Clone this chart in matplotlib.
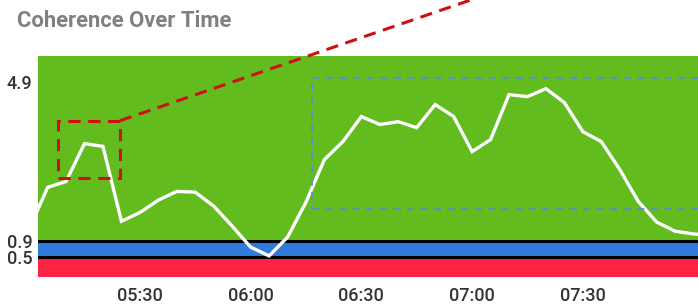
import matplotlib
matplotlib.use('Agg')
import matplotlib.pyplot as plt
from matplotlib.patches import Rectangle

plt.rcParams['font.family'] = ['Roboto', 'DejaVu Sans']

# coherence readings every 5 minutes
times = ['05:00', '05:05', '05:10', '05:15', '05:20', '05:25', '05:30', '05:35',
         '05:40', '05:45', '05:50', '05:55', '06:00', '06:05', '06:10', '06:15',
         '06:20', '06:25', '06:30', '06:35', '06:40', '06:45', '06:50', '06:55',
         '07:00', '07:05', '07:10', '07:15', '07:20', '07:25', '07:30', '07:35',
         '07:40', '07:45', '07:50', '07:55', '08:00', '08:05']
values = [1.2, 2.25, 2.4, 3.35, 3.28, 1.4, 1.62, 1.93,
          2.15, 2.13, 1.78, 1.28, 0.75, 0.53, 1.0, 1.88,
          2.95, 3.4, 4.03, 3.83, 3.9, 3.75, 4.33, 4.03,
          3.15, 3.45, 4.58, 4.53, 4.73, 4.38, 3.65, 3.4,
          2.7, 1.9, 1.38, 1.15, 1.08, 1.05]
xtick_labels = ['05:30', '06:00', '06:30', '07:00', '07:30']
ytick_values = [0.5, 0.9, 4.9]

def to_min(s):
    h, m = s.split(':')
    return int(h) * 60 + int(m)

x = [to_min(t) for t in times]

fig = plt.figure(figsize=(6.98, 3.07), dpi=100)
ax = fig.add_axes([38/698, 1 - 277/307, 1 - 38/698, (277 - 56)/307])

ymax = 5.55
ax.axhspan(0.9, ymax, color='#63bc1e', lw=0)
ax.axhspan(0.5, 0.9, color='#2f7bdb', lw=0)
ax.axhspan(0, 0.5, color='#fe2244', lw=0)
ax.axhline(0.9, color='black', lw=2.2)
ax.axhline(0.5, color='black', lw=2.2)

ax.plot(x, values, color='white', lw=2.4, solid_joinstyle='miter', zorder=5)

# highlight boxes
ax.add_patch(Rectangle((307.8, 2.475), 16.8, 1.45, fill=False, ec='#d01010',
                       lw=2.2, ls=(0, (4, 2.5)), zorder=6))
ax.plot([324.6, 419.4], [3.925, 6.95], color='#d01010', lw=2.2,
        ls=(0, (4, 2.5)), clip_on=False, zorder=6)
ax.add_patch(Rectangle((376.6, 1.7), 120, 3.3, fill=False, ec='#5b8bd6',
                       lw=1.3, ls=(0, (4, 3.5)), zorder=6))

ax.set_xlim(302.4, 481.2)
ax.set_ylim(0, ymax)
ax.set_xticks([to_min(t) for t in xtick_labels])
ax.set_xticklabels(xtick_labels)
ax.set_yticks(ytick_values)
ax.set_yticklabels([str(v) for v in ytick_values])
ax.tick_params(length=0, labelsize=13, colors='#333333')
ax.tick_params(axis='x', pad=7)
ax.tick_params(axis='y', pad=4)
for lab in ax.get_xticklabels() + ax.get_yticklabels():
    lab.set_fontweight('medium')
for s in ax.spines.values():
    s.set_visible(False)

fig.text(17/698, 1 - 21/307, 'Coherence Over Time', fontsize=15.8,
         fontweight='bold', color='#808080', va='center', ha='left')

fig.savefig('out.png', dpi=100)
